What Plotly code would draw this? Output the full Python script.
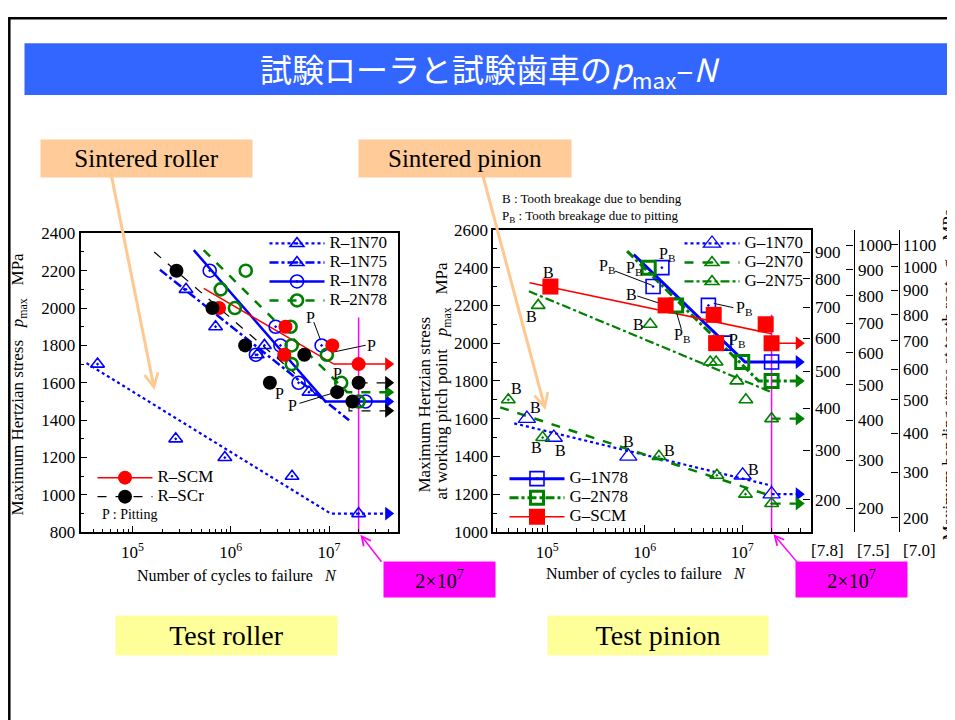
import numpy as np
import plotly.graph_objects as go

W, H = 955, 720
SERIF = "Liberation Serif"
BLUE, GREEN, RED, BLACK, MAG = "#0000ff", "#008000", "#ff0000", "#000000", "#ff00ff"

# ---------------- Sintered roller (left chart) ----------------
r1n70_N = [4.4e4, 2.75e5, 8.7e5, 4.2e6, 2.0e7]
r1n70_p = [1700, 1300, 1200, 1100, 900]
r1n70_fit_N = [3.4e4, 1.04e7, 4.0e7]
r1n70_fit_p = [1705, 900, 900]

r1n75_N = [3.5e5, 7.0e5, 2.2e6, 1.86e6, 3.5e6, 6.25e6]
r1n75_p = [2100, 1900, 1800, 1750, 1750, 1550]
r1n75_fit_N = [1.9e5, 1.6e7]
r1n75_fit_p = [2205, 1400]

r1n78_N = [6.1e5, 2.86e6, 3.2e6, 8.4e6, 1.8e6, 4.9e6, 2.35e7]
r1n78_p = [2200, 1900, 1800, 1800, 1750, 1600, 1500]
r1n78_fit_N = [4.2e5, 9.2e6, 4.0e7]
r1n78_fit_p = [2310, 1500, 1500]

r2n78_N = [1.42e6, 7.9e5, 1.1e6, 4.06e6, 4.17e6, 4.17e6, 9.5e6, 1.33e7, 2.0e7]
r2n78_p = [2200, 2100, 2000, 1900, 1800, 1700, 1750, 1600, 1500]
r2n78_fit_N = [5.3e5, 1.53e7, 4.0e7]
r2n78_fit_p = [2310, 1550, 1550]

rscm_N = [7.6e5, 3.6e6, 3.5e6, 1.08e7, 2.0e7]
rscm_p = [2000, 1900, 1750, 1800, 1700]
rscm_fit_N = [5.3e5, 1.12e7, 4.0e7]
rscm_fit_p = [2105, 1700, 1700]

rscr_N = [2.8e5, 6.5e5, 1.4e6, 2.5e6, 5.6e6, 1.21e7, 1.73e7, 2.0e7]
rscr_p = [2200, 2000, 1800, 1600, 1750, 1550, 1500, 1600]
rscr_fit_N = [1.66e5, 4.5e6]
rscr_fit_p = [2300, 1650]
rscr_run1_N = [2.0e7, 4.0e7]
rscr_run1_p = [1600, 1600]
rscr_run2_N = [1.6e7, 1.6e7, 4.0e7]
rscr_run2_p = [1480, 1450, 1450]

roller_P_N = [6.5e6, 2.7e7, 1.21e7, 3.1e6, 4.2e6]
roller_P_p = [1952, 1800, 1652, 1545, 1480]
roller_lead = [([7.0e6, 8.2e6], [1925, 1828]),
               ([1.12e7, 2.36e7], [1765, 1801]),
               ([5.0e6, 1.21e7], [1490, 1552])]

# ---------------- Sintered pinion (right chart) ----------------
g1n70_N = [6.2e4, 1.17e5, 6.8e5, 1.01e7, 2.0e7]
g1n70_p = [1600, 1500, 1400, 1300, 1200]
g1n70_fit_N = [4.6e4, 2.0e7]
g1n70_fit_p = [1575, 1245]

g2n70_N = [4.0e4, 9.0e4, 1.4e6, 5.5e6, 1.08e7, 2.0e7]
g2n70_p = [1700, 1500, 1400, 1300, 1200, 1150]
g2n70_fit_N = [3.3e4, 2.0e7]
g2n70_fit_p = [1660, 1190]

g2n75_N = [8.1e4, 1.14e6, 4.7e6, 5.4e6, 8.8e6, 1.09e7, 2.0e7]
g2n75_p = [2200, 2100, 1900, 1900, 1800, 1700, 1600]
g2n75_fit_N = [6.5e4, 2.0e7]
g2n75_fit_p = [2275, 1740]

g1n78_N = [1.5e6, 1.22e6, 4.5e6, 6.5e6, 2.0e7]
g1n78_p = [2400, 2300, 2200, 2000, 1900]
g1n78_fit_N = [7.7e5, 1.07e7, 3.8e7]
g1n78_fit_p = [2470, 1900, 1900]

g2n78_N = [1.1e6, 2.1e6, 1.0e7, 2.0e7]
g2n78_p = [2400, 2200, 1900, 1800]
g2n78_fit_N = [6.6e5, 1.47e7, 3.8e7]
g2n78_fit_p = [2488, 1800, 1800]

gscm_N = [1.08e5, 1.64e6, 5.1e6, 1.74e7, 5.4e6, 2.0e7]
gscm_p = [2300, 2200, 2150, 2100, 2000, 2000]
gscm_fit_N = [6.6e4, 2.0e7]
gscm_fit_p = [2320, 2050]

pinion_run_N = [2.0e7, 3.8e7]
runout_p = {"g1n70": 1200, "g2n70": 1150, "g2n75": 1600, "gscm": 2000}

pinion_lbl_text = ["B", "B", "B", "B", "P<sub>B</sub>", "P<sub>B</sub>", "P<sub>B</sub>",
                   "P<sub>B</sub>", "P<sub>B</sub>", "P<sub>B</sub>",
                   "B", "B", "B", "B", "B", "B", "B"]
pinion_lbl_N = [1.04e5, 6.9e4, 8.7e5, 7.4e5, 1.7e6, 4.1e5, 7.7e5, 1.04e7, 2.43e6, 8.9e6,
                4.9e4, 7.6e4, 7.8e4, 1.37e5, 6.9e5, 1.8e6, 1.32e7]
pinion_lbl_p = [2372, 2139, 2099, 2256, 2472, 2405, 2396, 2185, 2040, 2016,
                1761, 1659, 1445, 1433, 1477, 1433, 1332]
pinion_lead = [([4.97e5, 1.2e6], [2382, 2306]),
               ([8.4e5, 1.53e6], [2250, 2206]),
               ([5.1e6, 8.1e6], [2211, 2188]),
               ([2.1e6, 2.38e6], [2170, 2073])]

# bending-stress scales (sigma = k * p^2)
sig_labels_78 = [200, 300, 400, 500, 600, 700, 800, 900]
sig_labels_75 = [200, 300, 400, 500, 600, 700, 800, 900, 1000]
sig_labels_70 = [200, 300, 400, 500, 600, 700, 800, 900, 1000, 1100]
k_78, k_75, k_70 = 1.461e-4, 1.578e-4, 1.729e-4

x_major = [1e5, 1e6, 1e7]
x_major_text = ["10<sup>5</sup>", "10<sup>6</sup>", "10<sup>7</sup>"]
x_minor = [m * 10 ** d for d in range(4, 8) for m in range(2, 10)]

# page photo mapping (layout px -> picture px): pic = S * (layout + O)
SX, OX, SY, OY = 1.0, 7.5, 0.977, 16.0


def PX(xr):
    return xr / SX - OX


def PY(yr):
    return yr / SY - OY


def px(xr):
    return PX(xr) / W


def py(yr):
    return 1 - PY(yr) / H


fig = go.Figure()


def gapped(xs, ys):
    gx, gy = [], []
    for a, b in zip(xs, ys):
        gx += [a, None]
        gy += [b, None]
    return gx, gy


def fit_line(N, p, color, dash, width, xa, ya):
    fig.add_trace(go.Scatter(x=N, y=p, mode="lines", xaxis=xa, yaxis=ya,
                             line=dict(color=color, dash=dash, width=width),
                             showlegend=False, hoverinfo="skip"))


def arrow_tip(N, p, color, xa, ya):
    fig.add_trace(go.Scatter(x=[N], y=[p], mode="markers", xaxis=xa, yaxis=ya,
                             marker=dict(symbol="triangle-right", size=12, color=color,
                                         line=dict(width=0)),
                             showlegend=False, hoverinfo="skip"))


def pts(name, N, p, color, dash, lw, symbol, size, mlw, legend, xa, ya):
    gx, gy = gapped(N, p)
    fig.add_trace(go.Scatter(x=gx, y=gy, mode="lines+markers",
                             name='<span style="font-size:17px">' + name + "</span>",
                             xaxis=xa, yaxis=ya, connectgaps=False, legend=legend,
                             line=dict(color=color, dash=dash, width=lw),
                             marker=dict(symbol=symbol, size=size, color=color,
                                         line=dict(width=mlw, color=color)),
                             hoverinfo="skip"))


# magenta 2x10^7 lines
fig.add_trace(go.Scatter(x=[2e7, 2e7], y=[1950, 800], mode="lines", xaxis="x", yaxis="y",
                         line=dict(color=MAG, width=1.5), showlegend=False, hoverinfo="skip"))
fig.add_trace(go.Scatter(x=[2e7, 2e7], y=[2150, 1000], mode="lines", xaxis="x2", yaxis="y2",
                         line=dict(color=MAG, width=1.5), showlegend=False, hoverinfo="skip"))

# ---- left fit lines
fit_line(r1n70_fit_N, r1n70_fit_p, BLUE, "dot", 2.2, "x", "y")
arrow_tip(r1n70_fit_N[-1], r1n70_fit_p[-1], BLUE, "x", "y")
fit_line(r1n75_fit_N, r1n75_fit_p, BLUE, "dashdot", 2.5, "x", "y")
fit_line(r1n78_fit_N, r1n78_fit_p, BLUE, "solid", 2.5, "x", "y")
arrow_tip(r1n78_fit_N[-1], r1n78_fit_p[-1], BLUE, "x", "y")
fit_line(r2n78_fit_N, r2n78_fit_p, GREEN, "dash", 2.5, "x", "y")
arrow_tip(r2n78_fit_N[-1], r2n78_fit_p[-1], GREEN, "x", "y")
fit_line(rscm_fit_N, rscm_fit_p, RED, "solid", 1.5, "x", "y")
arrow_tip(rscm_fit_N[-1], rscm_fit_p[-1], RED, "x", "y")
fit_line(rscr_fit_N, rscr_fit_p, BLACK, "dash", 1.2, "x", "y")
fit_line(rscr_run1_N, rscr_run1_p, BLACK, "dash", 1.2, "x", "y")
arrow_tip(rscr_run1_N[-1], rscr_run1_p[-1], BLACK, "x", "y")
fit_line(rscr_run2_N, rscr_run2_p, BLACK, "dash", 1.2, "x", "y")
arrow_tip(rscr_run2_N[-1], rscr_run2_p[-1], BLACK, "x", "y")
for lx, ly in roller_lead:
    fit_line(lx, ly, BLACK, "solid", 1, "x", "y")

# ---- right fit lines
fit_line(g1n70_fit_N, g1n70_fit_p, BLUE, "dot", 2.2, "x2", "y2")
fit_line(pinion_run_N, [runout_p["g1n70"]] * 2, BLUE, "dot", 2.2, "x2", "y2")
arrow_tip(pinion_run_N[-1], runout_p["g1n70"], BLUE, "x2", "y2")
fit_line(g2n70_fit_N, g2n70_fit_p, GREEN, "dash", 2.5, "x2", "y2")
fit_line(pinion_run_N, [runout_p["g2n70"]] * 2, GREEN, "dash", 2.2, "x2", "y2")
arrow_tip(pinion_run_N[-1], runout_p["g2n70"], GREEN, "x2", "y2")
fit_line(g2n75_fit_N, g2n75_fit_p, GREEN, "dashdot", 2.2, "x2", "y2")
fit_line(pinion_run_N, [runout_p["g2n75"]] * 2, GREEN, "dash", 2.2, "x2", "y2")
arrow_tip(pinion_run_N[-1], runout_p["g2n75"], GREEN, "x2", "y2")
fit_line(g1n78_fit_N, g1n78_fit_p, BLUE, "solid", 3, "x2", "y2")
arrow_tip(g1n78_fit_N[-1], g1n78_fit_p[-1], BLUE, "x2", "y2")
fit_line(g2n78_fit_N, g2n78_fit_p, GREEN, "dashdot", 3, "x2", "y2")
arrow_tip(g2n78_fit_N[-1], g2n78_fit_p[-1], GREEN, "x2", "y2")
fit_line(gscm_fit_N, gscm_fit_p, RED, "solid", 1.5, "x2", "y2")
fit_line(pinion_run_N, [runout_p["gscm"]] * 2, RED, "solid", 1.5, "x2", "y2")
arrow_tip(pinion_run_N[-1], runout_p["gscm"], RED, "x2", "y2")
for lx, ly in pinion_lead:
    fit_line(lx, ly, BLACK, "solid", 1, "x2", "y2")

# ---- points (with legend entries)
pts("R–1N70", r1n70_N, r1n70_p, BLUE, "dot", 2.2, "triangle-up-open-dot", 12, 1.6, "legend", "x", "y")
pts("R–1N75", r1n75_N, r1n75_p, BLUE, "dashdot", 2.5, "triangle-up-open-dot", 12, 1.6, "legend", "x", "y")
pts("R–1N78", r1n78_N, r1n78_p, BLUE, "solid", 2.5, "circle-open-dot", 13, 1.6, "legend", "x", "y")
pts("R–2N78", r2n78_N, r2n78_p, GREEN, "dash", 2.5, "circle-open", 12, 2.6, "legend", "x", "y")
pts("R–SCM", rscm_N, rscm_p, RED, "solid", 1.5, "circle", 14, 0, "legend2", "x", "y")
pts("R–SCr", rscr_N, rscr_p, BLACK, "dash", 1.2, "circle", 14, 0, "legend2", "x", "y")

pts("G–1N70", g1n70_N, g1n70_p, BLUE, "dot", 2.2, "triangle-up-open", 15, 1.3, "legend3", "x2", "y2")
pts("G–2N70", g2n70_N, g2n70_p, GREEN, "dash", 2.5, "triangle-up-open-dot", 12, 1.6, "legend3", "x2", "y2")
pts("G–2N75", g2n75_N, g2n75_p, GREEN, "dashdot", 2.2, "triangle-up-open", 12, 1.6, "legend3", "x2", "y2")
pts("G–1N78", g1n78_N, g1n78_p, BLUE, "solid", 3, "square-open-dot", 14, 1.6, "legend4", "x2", "y2")
pts("G–2N78", g2n78_N, g2n78_p, GREEN, "dashdot", 3, "square-open", 13, 3, "legend4", "x2", "y2")
pts("G–SCM", gscm_N, gscm_p, RED, "solid", 1.5, "square", 16, 0, "legend4", "x2", "y2")

# invisible traces so the extra scales are drawn
for ya in ["y3", "y4", "y5"]:
    fig.add_trace(go.Scatter(x=[1e5], y=[1500], xaxis="x2", yaxis=ya, mode="markers",
                             marker=dict(opacity=0), showlegend=False, hoverinfo="skip"))

# ---------------- axes ----------------
tf = dict(family=SERIF, size=17, color="black")
ax_common = dict(showline=True, linecolor="black", linewidth=1.5, mirror=True,
                 showgrid=False, zeroline=False, tickfont=tf, ticks="inside",
                 ticklen=7, tickcolor="black")

fig.update_layout(
    width=W, height=H, margin=dict(l=0, r=0, t=0, b=0),
    paper_bgcolor="white", plot_bgcolor="white",
    xaxis=dict(type="log", range=[4.47, 7.70], domain=[px(80), px(397.3)], anchor="y",
               tickvals=x_major, ticktext=x_major_text, ticklabelstandoff=4,
               minor=dict(tickvals=x_minor, ticks="inside", ticklen=4, tickcolor="black"),
               **ax_common),
    yaxis=dict(range=[800, 2400], domain=[py(532.7), py(232.7)], anchor="x",
               tickvals=list(range(800, 2401, 200)),
               minor=dict(dtick=100, ticks="inside", ticklen=4, tickcolor="black"),
               **ax_common),
    xaxis2=dict(type="log", range=[4.447, 7.70], domain=[px(492.7), px(810)], anchor="y2",
                tickvals=x_major, ticktext=x_major_text, ticklabelstandoff=4,
                minor=dict(tickvals=x_minor, ticks="inside", ticklen=4, tickcolor="black"),
                **ax_common),
    yaxis2=dict(range=[1000, 2600], domain=[py(532.3), py(229.3)], anchor="x2",
                tickvals=list(range(1000, 2601, 200)),
                minor=dict(dtick=100, ticks="inside", ticklen=4, tickcolor="black"),
                **ax_common),
)

for name, pos, labels, k in [("yaxis3", 810, sig_labels_78, k_78),
                             ("yaxis4", 853, sig_labels_75, k_75),
                             ("yaxis5", 898, sig_labels_70, k_70)]:
    fig.layout[name] = dict(overlaying="y2", side="right", anchor="free", position=px(pos),
                            range=[1000, 2600], tickvals=[float(np.sqrt(s / k)) for s in labels],
                            ticktext=[str(s) for s in labels], ticks="inside", ticklen=7,
                            tickcolor="black", showline=True, linecolor="black", linewidth=1.2,
                            showgrid=False, zeroline=False, tickfont=tf)

# ---------------- legends ----------------
IW = 55


def leg(text_x, first_y):
    return dict(x=(PX(text_x) - IW - 11) / W, y=1 - (PY(first_y) - 14) / H,
                xanchor="left", yanchor="top", bgcolor="rgba(0,0,0,0)",
                borderwidth=0, font=dict(family=SERIF, size=11, color="black"),
                itemwidth=IW, tracegroupgap=0)


fig.update_layout(legend=leg(330, 242), legend2=leg(158, 477),
                  legend3=leg(745, 242), legend4=leg(570, 478))

# ---------------- annotations ----------------
ann = []
lab_font = dict(family=SERIF, size=16, color="black")
for N, p in zip(roller_P_N, roller_P_p):
    ann.append(dict(x=np.log10(N), y=p, xref="x", yref="y", text="P", showarrow=False, font=lab_font))
for t, N, p in zip(pinion_lbl_text, pinion_lbl_N, pinion_lbl_p):
    ann.append(dict(x=np.log10(N), y=p, xref="x2", yref="y2", text=t, showarrow=False, font=lab_font))


def ptext(text, xr, yr, size, xanchor="center", angle=0, family=SERIF, color="black", **kw):
    ann.append(dict(x=px(xr), y=py(yr), xref="paper", yref="paper", xanchor=xanchor,
                    yanchor="middle", text=text, showarrow=False, textangle=angle,
                    font=dict(family=family, size=size, color=color), **kw))


ptext("P : Pitting", 99, 515, 14, xanchor="left")
ptext("B : Tooth breakage due to bending", 499, 198, 13, xanchor="left")
ptext("P<sub>B</sub> : Tooth breakage due to pitting", 499, 216, 13, xanchor="left")

ptext("Number of cycles to failure   <i>N</i>", 236, 577, 16)
ptext("Number of cycles to failure   <i>N</i>", 645, 575, 16)
ptext("Maximum Hertzian stress   <i>p</i><sub>max</sub>   MPa", 19, 384, 17, angle=-90)
ptext("Maximum Hertzian stress", 424, 405, 17, angle=-90)
ptext("at working pitch point   <i>p</i><sub>max</sub>   MPa", 443, 381, 17, angle=-90)
ptext("Maximum bending stress at tooth root   <i>σ</i><sub>F</sub>   MPa", 950, 375, 17, angle=-90)
for t, xr in [("[7.8]", 827), ("[7.5]", 873), ("[7.0]", 919)]:
    ptext(t, xr, 551, 17)

# title
ptext("試験ローラと試験歯車の<i>p</i><sub>max</sub>–<i>N</i>", 490, 69, 32,
      family="Noto Sans CJK JP", color="white")

# label boxes
for txt, cx, cy, w, h, col, fs in [("Sintered roller", 145.5, 158, 211, 36, "#ffcc99", 25),
                                   ("Sintered pinion", 464, 158, 212, 36, "#ffcc99", 25),
                                   ("Test roller", 226, 636, 221, 38, "#ffff99", 28),
                                   ("Test pinion", 657, 636, 220, 38, "#ffff99", 28)]:
    ptext(txt, cx, cy, fs, bgcolor=col, width=w / SX, height=h / SY, borderpad=0)

# 2x10^7 boxes
for cx in [438.5, 850.5]:
    ptext("2×10<sup>7</sup>", cx, 580, 20, bgcolor=MAG, width=111 / SX, height=34 / SY, borderpad=0)

# peach arrows
ann.append(dict(x=px(154), y=py(390), xref="paper", yref="paper", ax=-44 / SX, ay=-214 / SY,
                text="", showarrow=True, arrowhead=5, arrowsize=0.9, arrowwidth=3,
                arrowcolor="#ffc890"))
ann.append(dict(x=px(545), y=py(410), xref="paper", yref="paper", ax=-64 / SX, ay=-234 / SY,
                text="", showarrow=True, arrowhead=5, arrowsize=0.9, arrowwidth=3,
                arrowcolor="#ffc890"))
# magenta arrows
ann.append(dict(x=np.log10(2e7), y=800, xref="x", yref="y", ax=24, ay=31, text="",
                showarrow=True, arrowhead=5, arrowsize=1.2, arrowwidth=1.5, arrowcolor=MAG, standoff=3))
ann.append(dict(x=np.log10(2e7), y=1000, xref="x2", yref="y2", ax=27, ay=32, text="",
                showarrow=True, arrowhead=5, arrowsize=1.2, arrowwidth=1.5, arrowcolor=MAG, standoff=3))

fig.update_layout(annotations=ann)

# frame and title band
fig.update_layout(shapes=[
    dict(type="rect", xref="paper", yref="paper", x0=px(24), x1=px(947), y0=py(94), y1=py(42),
         fillcolor="#3366ff", line=dict(width=0), layer="below"),
    dict(type="rect", xref="paper", yref="paper", x0=1.3 / W, x1=1.05, y0=-0.05, y1=1 - 1.3 / H,
         fillcolor="rgba(0,0,0,0)", line=dict(color="black", width=2.5), layer="above"),
])

fig.write_html("out.html")
